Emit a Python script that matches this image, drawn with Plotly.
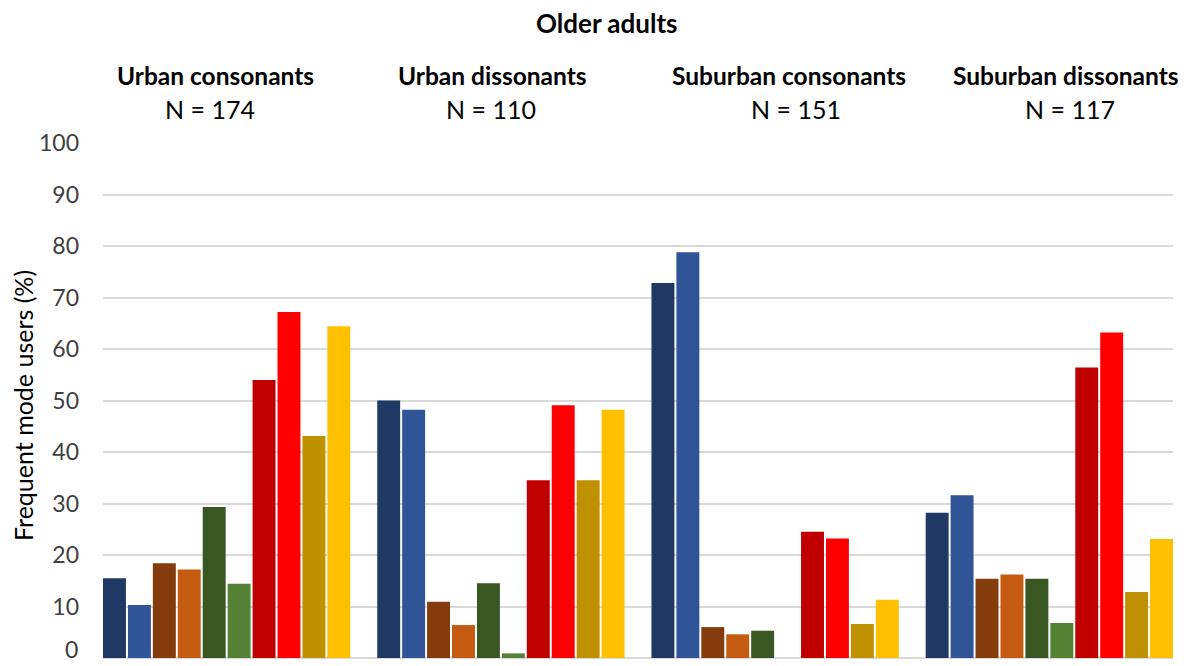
import plotly.graph_objects as go

groups = ["Urban consonants", "Urban dissonants", "Suburban consonants", "Suburban dissonants"]
group_n = ["N = 174", "N = 110", "N = 151", "N = 117"]
series_names = ["Mode 1a", "Mode 1b", "Mode 2a", "Mode 2b", "Mode 3a", "Mode 3b",
                "Mode 4a", "Mode 4b", "Mode 5a", "Mode 5b"]
colors = ["#203864", "#2F5597", "#843C0C", "#C55A11", "#385723", "#548235",
          "#C00000", "#FF0000", "#BF9000", "#FFC000"]

urban_consonants = [15.5, 10.3, 18.4, 17.2, 29.3, 14.4, 54.0, 67.2, 43.1, 64.4]
urban_dissonants = [50.0, 48.2, 10.9, 6.4, 14.5, 0.9, 34.5, 49.1, 34.5, 48.2]
suburban_consonants = [72.8, 78.8, 6.0, 4.6, 5.3, 0.0, 24.5, 23.2, 6.6, 11.3]
suburban_dissonants = [28.2, 31.6, 15.4, 16.2, 15.4, 6.8, 56.4, 63.2, 12.8, 23.1]

values = [urban_consonants, urban_dissonants, suburban_consonants, suburban_dissonants]
y_ticks = [0, 10, 20, 30, 40, 50, 60, 70, 80, 90, 100]
y_title = "Frequent mode users (%)"

W, H = 1188, 666
PX0, PX1, PY0, PY1 = 103, 1173, 143, 658
SLOTS = 11

def px(x):
    return (x - PX0) / (PX1 - PX0)

def py(y):
    return (PY1 - y) / (PY1 - PY0)

fig = go.Figure()
for s, name in enumerate(series_names):
    fig.add_trace(go.Bar(
        x=[g * SLOTS + s for g in range(len(groups))],
        y=[values[g][s] for g in range(len(groups))],
        name=name,
        marker=dict(color=colors[s], line=dict(width=0)),
        width=0.92,
        hovertemplate=name + ": %{y}<extra></extra>",
    ))

font_family = "Lato, 'Open Sans', sans-serif"
annotations = [dict(text="<b>Older adults</b>", x=px(607), y=py(23), xref="paper", yref="paper",
                    showarrow=False, font=dict(size=26, color="#000000", family=font_family),
                    xanchor="center", yanchor="middle")]
label_x = [215, 492, 789, 1066]
n_x = [210, 491, 796, 1070]
for g in range(len(groups)):
    annotations.append(dict(text="<b>" + groups[g] + "</b>", x=px(label_x[g]), y=py(75),
                            xref="paper", yref="paper", showarrow=False,
                            font=dict(size=24.5, color="#000000", family=font_family),
                            xanchor="center", yanchor="middle"))
    annotations.append(dict(text=group_n[g], x=px(n_x[g]), y=py(109),
                            xref="paper", yref="paper", showarrow=False,
                            font=dict(size=25, color="#000000", family=font_family),
                            xanchor="center", yanchor="middle"))

# zero tick label drawn separately so it stays inside the page
annotations.append(dict(text=str(y_ticks[0]), x=px(80), y=py(665), xref="paper", yref="paper",
                        showarrow=False, xanchor="right", yanchor="bottom",
                        font=dict(size=23, color="#404040", family=font_family)))
# y-axis title
annotations.append(dict(text=y_title, x=px(23), y=py(406), xref="paper", yref="paper",
                        showarrow=False, xanchor="center", yanchor="middle", textangle=-90,
                        font=dict(size=25, color="#000000", family=font_family)))

fig.update_layout(
    width=W, height=H,
    margin=dict(l=PX0, r=W - PX1, t=PY0, b=H - PY1, pad=0),
    barmode="overlay",
    showlegend=False,
    plot_bgcolor="white", paper_bgcolor="white",
    font=dict(family=font_family, color="#404040"),
    annotations=annotations,
    xaxis=dict(range=[-0.46, (len(groups) - 1) * SLOTS + 9.46], showticklabels=False,
               showgrid=False, zeroline=False, showline=False, ticks=""),
    yaxis=dict(range=[0, 100], tickvals=y_ticks[1:], showgrid=True, gridcolor="#d9d9d9",
               gridwidth=1.5, zeroline=True, zerolinecolor="#d9d9d9", zerolinewidth=1.5,
               showline=False, ticks="", ticklabelstandoff=23,
               tickfont=dict(size=23, color="#404040", family=font_family)),
)

fig.write_html("out.html")
